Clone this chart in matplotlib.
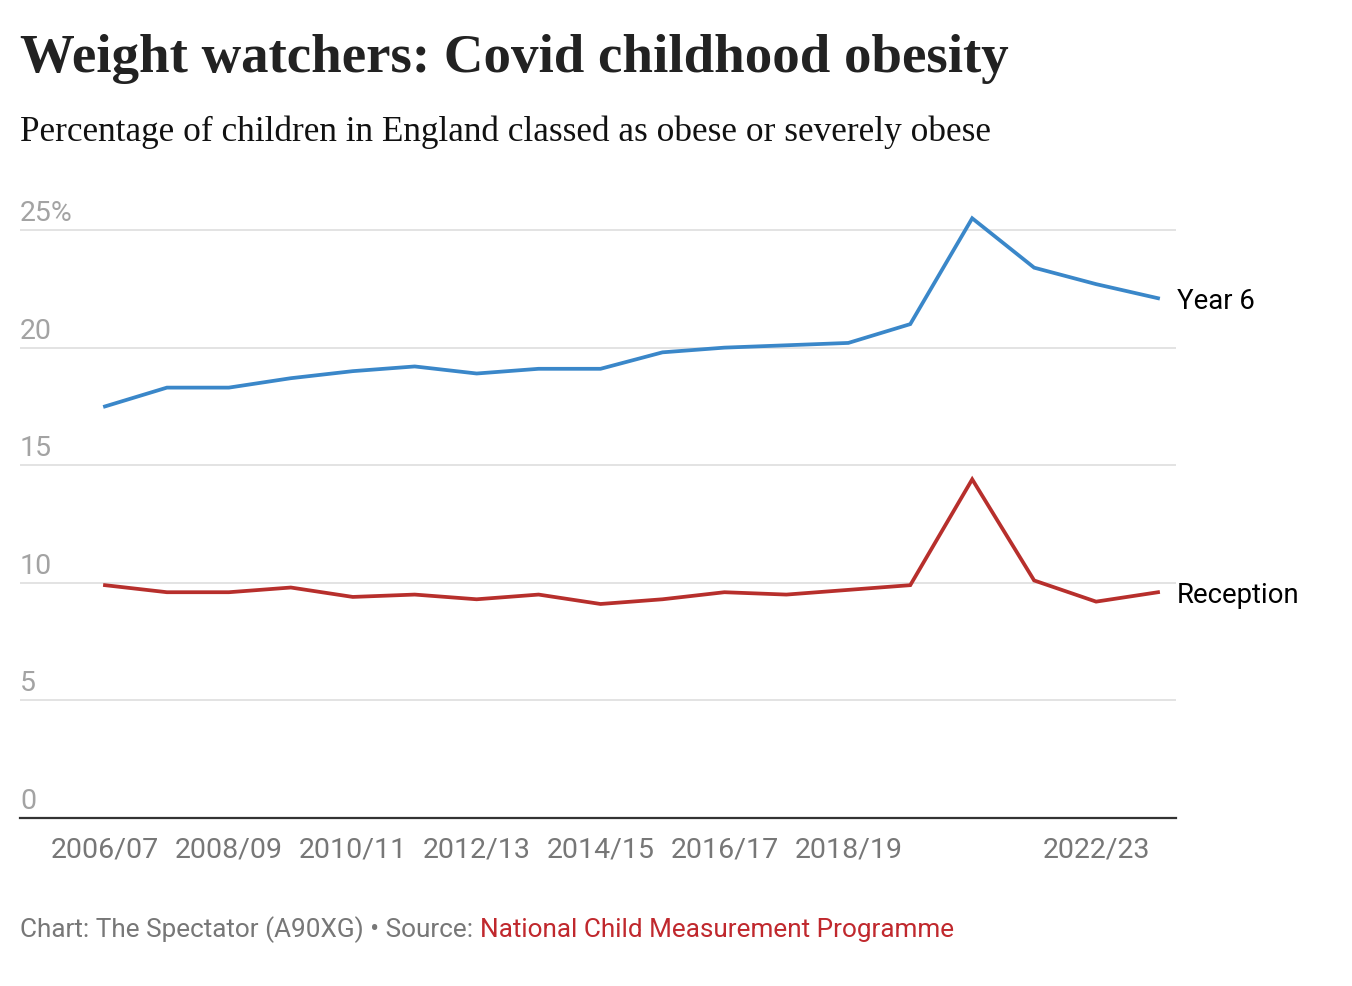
import matplotlib
matplotlib.use("Agg")
import matplotlib.pyplot as plt

# ── Data ─────────────────────────────────────────────────────────────────────
years = ["2006/07", "2007/08", "2008/09", "2009/10", "2010/11", "2011/12",
         "2012/13", "2013/14", "2014/15", "2015/16", "2016/17", "2017/18",
         "2018/19", "2019/20", "2020/21", "2021/22", "2022/23", "2023/24"]
year6 = [17.5, 18.3, 18.3, 18.7, 19.0, 19.2, 18.9, 19.1, 19.1, 19.8,
         20.0, 20.1, 20.2, 21.0, 25.5, 23.4, 22.7, 22.1]
reception = [9.9, 9.6, 9.6, 9.8, 9.4, 9.5, 9.3, 9.5, 9.1, 9.3,
             9.6, 9.5, 9.7, 9.9, 14.4, 10.1, 9.2, 9.6]
tick_labels = ["2006/07", "2008/09", "2010/11", "2012/13", "2014/15",
               "2016/17", "2018/19", "2022/23"]
y_ticks = [0, 5, 10, 15, 20, 25]

BLUE = "#3a87c9"
RED = "#b72f2c"
GREY = "#777777"
LIGHT = "#a3a3a3"
SANS = ["Roboto", "DejaVu Sans"]
SERIF = ["Liberation Serif", "DejaVu Serif"]

W, H = 1352, 986
fig = plt.figure(figsize=(W / 100, H / 100), dpi=100, facecolor="white")

# axes box in pixels: x 20..1176, y 195..818
ax = fig.add_axes([20 / W, 1 - 818 / H, 1156 / W, 623 / H])
ax.set_facecolor("white")

x = list(range(len(years)))
ax.plot(x, year6, color=BLUE, linewidth=2.7, solid_joinstyle="miter", zorder=3)
ax.plot(x, reception, color=RED, linewidth=2.7, solid_joinstyle="miter", zorder=3)

ax.set_xlim(-1.372, 17.29)
ax.set_ylim(0, 26.49)

for s in ["top", "right", "left"]:
    ax.spines[s].set_visible(False)
ax.spines["bottom"].set_color("#333333")
ax.spines["bottom"].set_linewidth(1.6)

# gridlines + y labels sitting above the lines
for v in y_ticks:
    if v > 0:
        ax.axhline(v, color="#e3e3e3", linewidth=1.4, zorder=1)
    ax.annotate(f"{v}%" if v == 25 else str(v), xy=(0, v), xycoords=("axes fraction", "data"),
                xytext=(0, 9), textcoords="offset pixels", ha="left", va="baseline",
                fontsize=20.5, color=LIGHT, family=SANS)

ax.set_yticks([])
ax.set_xticks([years.index(t) for t in tick_labels])
ax.set_xticklabels(tick_labels, fontsize=20.5, color=GREY, family=SANS)
ax.tick_params(axis="x", length=0, pad=13)

# direct line labels
ax.annotate("Year 6", xy=(17, year6[-1]), xytext=(19, -3), textcoords="offset pixels",
            ha="left", va="center", fontsize=19.8, color="black", family=SANS)
ax.annotate("Reception", xy=(17, reception[-1]), xytext=(19, -3), textcoords="offset pixels",
            ha="left", va="center", fontsize=19.8, color="black", family=SANS)

# ── Titles ───────────────────────────────────────────────────────────────────
fig.text(20 / W, 1 - 72 / H, "Weight watchers: Covid childhood obesity",
         fontsize=39.5, fontweight="bold", color="#222222", family=SERIF,
         ha="left", va="baseline")
fig.text(20 / W, 1 - 141 / H, "Percentage of children in England classed as obese or severely obese",
         fontsize=25.4, color="#111111", family=SERIF, ha="left", va="baseline")

# ── Footer (two colours) ─────────────────────────────────────────────────────
foot1 = fig.text(20 / W, 1 - 937 / H, "Chart: The Spectator (A90XG) \u2022 Source: ",
                 fontsize=18.8, color=GREY, family=SANS, ha="left", va="baseline")
renderer = fig.canvas.get_renderer()
bb = foot1.get_window_extent(renderer=renderer)
fig.text(bb.x1 / W, 1 - 937 / H, "National Child Measurement Programme",
         fontsize=18.8, color="#c0282d", family=SANS, ha="left", va="baseline")

fig.savefig("out.png", dpi=100, facecolor="white")
plt.close(fig)
